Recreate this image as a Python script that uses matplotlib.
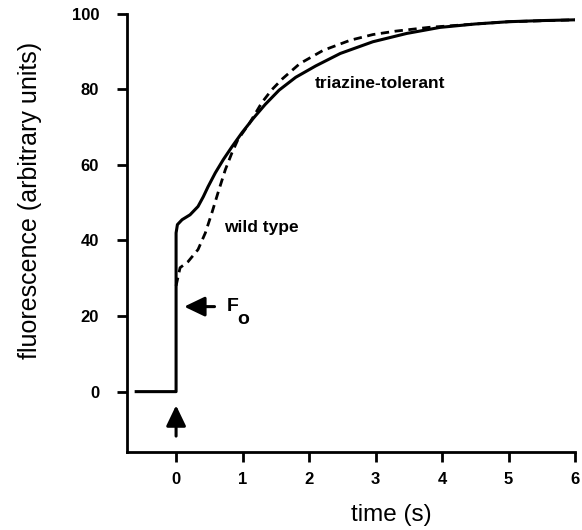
import matplotlib
matplotlib.use("Agg")
import matplotlib.pyplot as plt

plt.rcParams['font.family'] = ['Liberation Sans', 'DejaVu Sans']

# triazine-tolerant trace (solid), includes dark baseline and the jump at t=0
tol_t = [-0.6, 0, 0, 0.02, 0.09, 0.21, 0.33, 0.41, 0.48, 0.59, 0.71, 0.84,
         0.99, 1.16, 1.34, 1.55, 1.8, 2.1, 2.47, 2.96, 3.47, 3.97, 4.5,
         5.0, 5.5, 6.0]
tol_f = [0, 0, 42, 44.2, 45.5, 46.8, 49, 51.6, 54.2, 57.9, 61.4, 64.8,
         68.5, 72.3, 76, 79.8, 83.2, 86.2, 89.5, 92.6, 94.8, 96.4, 97.3,
         97.9, 98.2, 98.4]

# wild type trace (dashed), leaves the jump at Fo
wt_t = [0, 0.06, 0.18, 0.33, 0.44, 0.54, 0.63, 0.74, 0.84, 0.93, 1.11,
        1.29, 1.44, 1.6, 1.86, 2.21, 2.62, 2.96, 3.3, 3.8, 4.5, 5.0, 6.0]
wt_f = [28, 32.8, 34.4, 37.6, 42, 47.4, 52.6, 58.7, 63.2, 66.7, 71.2,
        76.5, 79.9, 82.8, 86.8, 90.3, 93, 94.5, 95.4, 96.4, 97.3, 97.9, 98.4]

fo_level = 22.5

fig = plt.figure(figsize=(5.82, 5.30), dpi=100)
ax = fig.add_axes([0.218, 0.147, 0.770, 0.827])

ax.plot(tol_t, tol_f, color='black', lw=2.2, solid_joinstyle='round')
ax.plot(wt_t, wt_f, color='black', lw=2.0, ls=(0, (3.0, 2.0)),
        dash_joinstyle='round')

# arrows: light on at t=0, and Fo level
arrow_style = '-|>,head_width=0.6,head_length=1.25'
ax.annotate('', xy=(0, -2.9), xytext=(0, -12.5),
            arrowprops=dict(arrowstyle=arrow_style, color='black', lw=2.2))
ax.annotate('', xy=(0.08, fo_level), xytext=(0.62, fo_level),
            arrowprops=dict(arrowstyle=arrow_style, color='black', lw=2.2))
ax.text(0.76, fo_level, 'F', fontsize=14, fontweight='bold',
        va='center', ha='left')
ax.text(0.92, fo_level - 3.4, 'o', fontsize=14, fontweight='bold',
        va='center', ha='left')

ax.text(0.72, 43.5, 'wild type', fontsize=12.5, fontweight='bold',
        va='center', ha='left')
ax.text(2.09, 81.5, 'triazine-tolerant', fontsize=12.5, fontweight='bold',
        va='center', ha='left')

ax.set_xlim(-0.74, 6)
ax.set_ylim(-16, 100)
ax.set_xticks([0, 1, 2, 3, 4, 5, 6])
ax.set_yticks([0, 20, 40, 60, 80, 100])
for s in ['top', 'right']:
    ax.spines[s].set_visible(False)
for s in ['left', 'bottom']:
    ax.spines[s].set_linewidth(2.0)
ax.tick_params(width=2.0, length=7, labelsize=12)
ax.tick_params(axis='x', pad=7)
ax.tick_params(axis='y', pad=13)
for lab in ax.get_xticklabels() + ax.get_yticklabels():
    lab.set_fontweight('bold')

ax.set_xlabel('time (s)', fontsize=17.5)
ax.set_ylabel('fluorescence (arbitrary units)', fontsize=18)
ax.xaxis.set_label_coords(0.59, -0.118)
ax.yaxis.set_label_coords(-0.19, 0.575)

fig.savefig('out.png', dpi=100)
